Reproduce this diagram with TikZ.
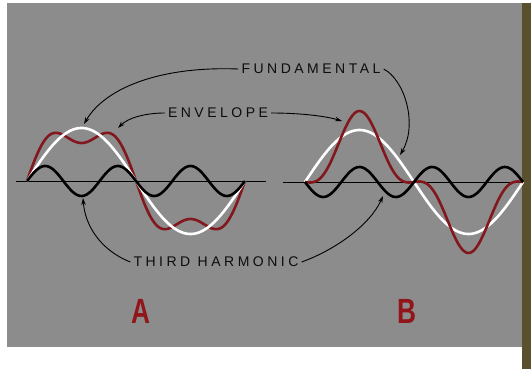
\documentclass[tikz,border=0pt]{standalone}
\usepackage{fontspec}
\usepackage{graphicx}
\setmainfont{Liberation Sans}
\newfontfamily\capsfont[LetterSpace=25]{Liberation Sans}
\usepackage{tikz}
\usetikzlibrary{arrows.meta}
\definecolor{bggray}{RGB}{140,140,140}
\definecolor{wavered}{RGB}{130,24,30}
\definecolor{letterred}{RGB}{145,22,28}
\definecolor{olivestrip}{RGB}{90,80,45}

\begin{document}
\begin{tikzpicture}[x=1pt, y=-1pt]
\tikzstyle{caption} = [font=\capsfont\fontsize{14}{16}\selectfont, text=black!95, inner sep=3pt]
\tikzstyle{panel} = [font=\bfseries\fontsize{35}{37}\selectfont, text=letterred, inner sep=0pt]
\tikzstyle{arrow} = [line width=0.9pt, ->, >={Stealth[length=7pt,width=4.5pt]}, black]
\tikzstyle{axis} = [line width=1pt, black]
\tikzstyle{fundwave} = [line width=2.6pt, white]
\tikzstyle{envwave} = [line width=2.6pt, wavered]
\tikzstyle{harmwave} = [line width=2.6pt, black]

% Background
\useasboundingbox (0,0) rectangle (531,369);
\fill[white] (0,0) rectangle (531,369);
\fill[bggray] (7,3) rectangle (522,347);
\fill[olivestrip] (522,3) rectangle (531,369);

% Panel A
\draw[axis] (16,181) -- (266,181);
\draw[envwave] plot[domain=0:360, samples=120] ({27+0.60556*\x}, {181-53*sin(\x)-15*sin(3*\x)});
\draw[fundwave] plot[domain=0:360, samples=120] ({27+0.60556*\x}, {181-53*sin(\x)});
\draw[harmwave] plot[domain=0:360, samples=120] ({27+0.60556*\x}, {181-15*sin(3*\x)});

% Panel B
\draw[axis] (283,182) -- (522,182);
\draw[fundwave] plot[domain=0:360, samples=120] ({305+0.60556*\x}, {182-52*sin(\x)});
\draw[envwave] plot[domain=0:360, samples=120] ({305+0.60556*\x}, {182-52*sin(\x)+19*sin(3*\x)});
\draw[harmwave] plot[domain=0:360, samples=120] ({305+0.60556*\x}, {182+15*sin(3*\x)});

% Labels
\node[caption] (fund) at (311,69) {FUNDAMENTAL};
\node[caption] (env) at (218,113) {ENVELOPE};
\node[caption] (harm) at (216,262) {THIRD HARMONIC};
\node[panel] (labA) at (141,311) {\scalebox{0.75}[1]{A}};
\node[panel] (labB) at (407,311) {\scalebox{0.75}[1]{B}};

% Arrow targets
\coordinate (fundA) at (84,124);
\coordinate (fundB) at (400,155);
\coordinate (envA) at (118,128);
\coordinate (envB) at (342,121);
\coordinate (harmA) at (83,198);
\coordinate (harmB) at (383,196);

% Arrows
\draw[arrow] (fund.west) .. controls (160,66) and (105,88) .. (fundA);
\draw[arrow] (fund.east) .. controls (405,80) and (418,125) .. (fundB);
\draw[arrow] (env.west) .. controls (145,113) and (128,118) .. (envA);
\draw[arrow] (env.east) .. controls (300,113) and (325,116) .. (envB);
\draw[arrow] (harm.west) .. controls (100,250) and (85,225) .. (harmA);
\draw[arrow] (harm.east) .. controls (335,250) and (370,225) .. (harmB);
\end{tikzpicture}
\end{document}
